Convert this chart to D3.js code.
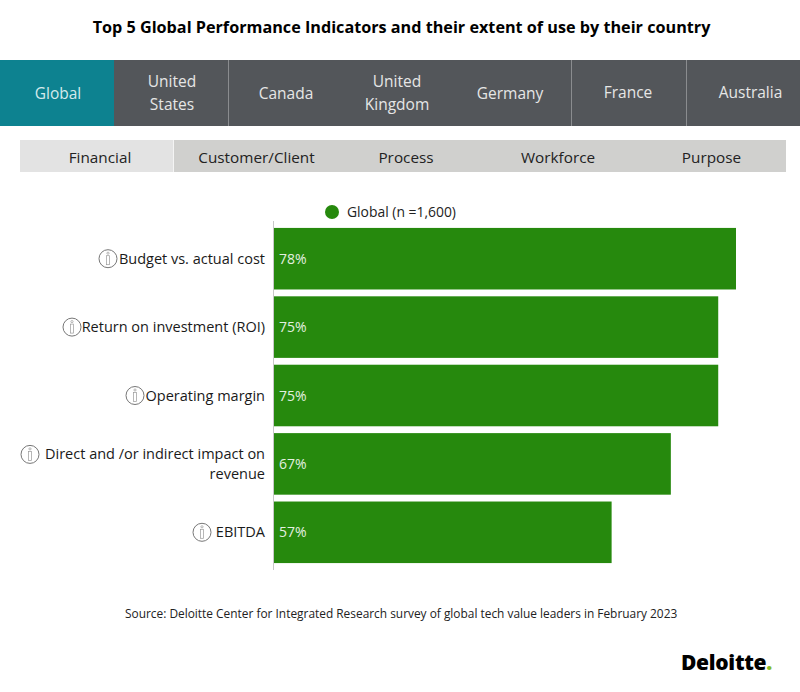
<!DOCTYPE html>
<html><head><meta charset="utf-8">
<script src="https://cdn.jsdelivr.net/npm/d3@7"></script>
<style>html,body{margin:0;padding:0;background:#fff}svg{display:block;font-family:"Open Sans",sans-serif}</style>
</head><body><svg id="c" width="800" height="692"></svg>
<script>
const chartTitle = "Top 5 Global Performance Indicators and their extent of use by their country";
const countries = [["Global"],["United","States"],["Canada"],["United","Kingdom"],["Germany"],["France"],["Australia"]];
const countryCenters = [58,172,286,397,510,628,750.5];
const separators = [228,571,686];
const tabs = ["Financial","Customer/Client","Process","Workforce","Purpose"];
const tabCenters = [100,256.5,406,558,711.5];
const categories = [["Budget vs. actual cost"],["Return on investment (ROI)"],["Operating margin"],["Direct and /or indirect impact on","revenue"],["EBITDA"]];
const values = [78,75,75,67,57];
const legendLabel = "Global (n =1,600)";
const source = "Source: Deloitte Center for Integrated Research survey of global tech value leaders in February 2023";

const svg = d3.select("#c");
svg.append("text").attr("x",401.5).attr("y",33).attr("text-anchor","middle").attr("font-size",16.2).attr("font-weight",700).attr("fill","#000").text(chartTitle);

// country tabs
const nav = svg.append("g");
nav.append("rect").attr("x",0).attr("y",60).attr("width",800).attr("height",66).attr("fill","#53565a");
nav.append("rect").attr("x",0).attr("y",60).attr("width",114).attr("height",66).attr("fill","#0d8290");
separators.forEach(x=>nav.append("line").attr("x1",x+.5).attr("x2",x+.5).attr("y1",60).attr("y2",126).attr("stroke","#8a8c8f"));
countries.forEach((c,i)=>{
  const ys = c.length===2 ? [87,110] : [(i>=5?98:99)];
  c.forEach((t,j)=>nav.append("text").attr("x",countryCenters[i]).attr("y",ys[j]).attr("text-anchor","middle").attr("font-size",15.5).attr("fill",i===0?"#d5eaec":"#e6e6e6").text(t));
});

// metric tabs
const mt = svg.append("g");
mt.append("rect").attr("x",20).attr("y",140).attr("width",766).attr("height",32).attr("fill","#d0d0ce");
mt.append("rect").attr("x",20).attr("y",140).attr("width",153).attr("height",32).attr("fill","#e3e3e3");
mt.append("line").attr("x1",173.5).attr("x2",173.5).attr("y1",140).attr("y2",172).attr("stroke","#f4f4f4");
tabs.forEach((t,i)=>mt.append("text").attr("x",tabCenters[i]).attr("y",163).attr("text-anchor","middle").attr("font-size",15.3).attr("fill","#222").text(t));

// legend
svg.append("circle").attr("cx",332).attr("cy",212).attr("r",7).attr("fill","#26890d");
svg.append("text").attr("x",347).attr("y",217).attr("font-size",13.9).attr("fill","#222").text(legendLabel);

// chart
const x = d3.scaleLinear().domain([0,78]).range([274,736]);
const y = d3.scaleBand().domain(d3.range(values.length)).range([224.5,566.5]).paddingInner(0.1).paddingOuter(0.05);
svg.append("line").attr("x1",273.5).attr("x2",273.5).attr("y1",221).attr("y2",570).attr("stroke","#c8c8c8");
svg.selectAll("rect.bar").data(values).join("rect").attr("class","bar")
  .attr("x",x(0)).attr("y",(d,i)=>y(i)).attr("width",d=>x(d)-x(0)).attr("height",y.bandwidth()).attr("fill","#26890d");
svg.selectAll("text.val").data(values).join("text").attr("class","val")
  .attr("x",x(0)+5).attr("y",(d,i)=>y(i)+y.bandwidth()/2+5).attr("font-size",14).attr("fill","#e4f0e0").text(d=>d+"%");

const iconX = [108,72,135,30,202];
categories.forEach((lines,i)=>{
  const cy = y(i)+y.bandwidth()/2;
  const ys = lines.length===2 ? [cy-4.5,cy+15] : [cy+5];
  lines.forEach((t,j)=>svg.append("text").attr("x",265).attr("y",ys[j]).attr("text-anchor","end").attr("font-size",14.5).attr("fill","#1a1a1a").text(t));
  const iy = lines.length===2 ? cy-9.5 : cy;
  const g = svg.append("g").attr("transform",`translate(${iconX[i]},${iy})`);
  g.append("circle").attr("r",9).attr("fill","#fff").attr("stroke","#777").attr("stroke-width",1);
  g.append("rect").attr("x",-1.5).attr("y",-3).attr("width",3).attr("height",9).attr("fill","none").attr("stroke","#999").attr("stroke-width",.7);
  g.append("circle").attr("cy",-5.5).attr("r",1.1).attr("fill","none").attr("stroke","#999").attr("stroke-width",.7);
});

svg.append("text").attr("x",125).attr("y",618).attr("font-size",11.9).attr("fill","#222").text(source);

// logo
const logo = svg.append("text").attr("x",681).attr("y",670).attr("font-size",21).attr("font-weight",800).attr("fill","#000").attr("letter-spacing",-.3);
logo.append("tspan").text("Deloitte");
logo.append("tspan").attr("fill","#86bc25").text(".");
</script></body></html>
